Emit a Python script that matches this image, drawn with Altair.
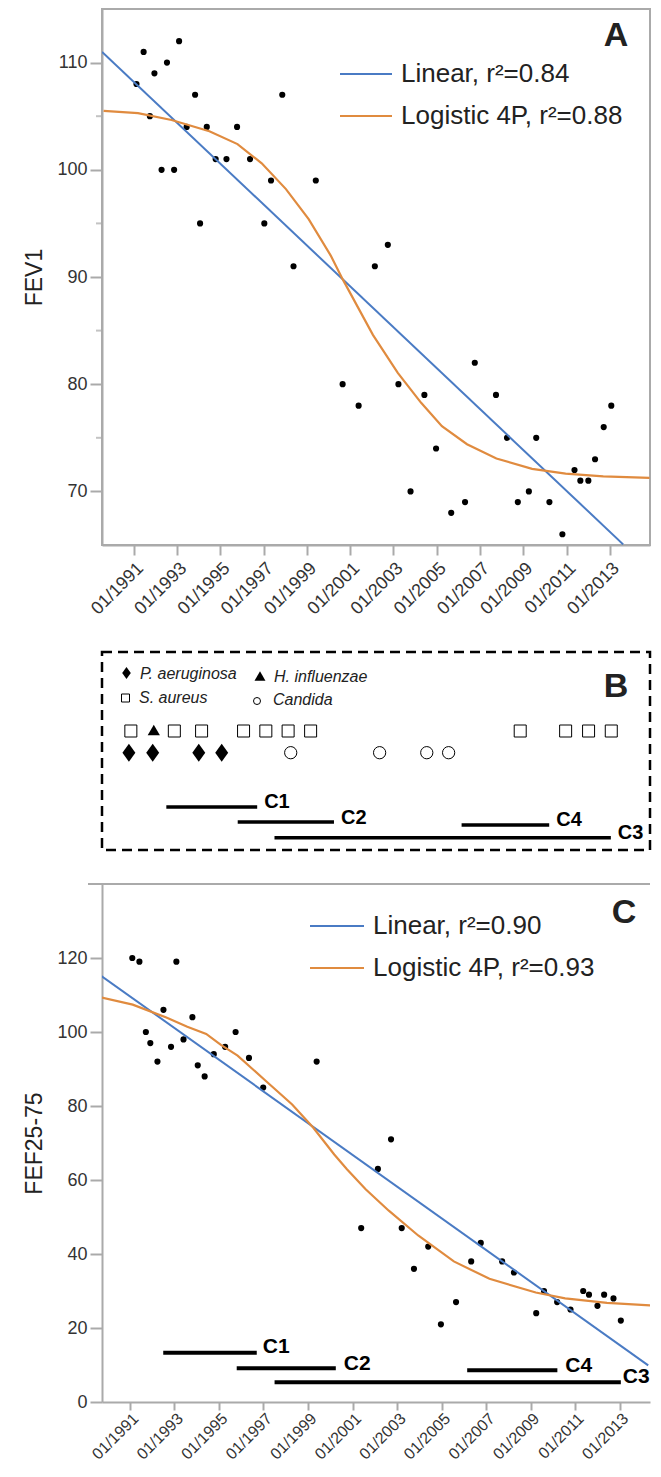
import altair as alt
import pandas as pd

# ---------------- Panel A : FEV1 ----------------
fev1_year = [1991.12, 1991.45, 1991.74, 1991.95, 1992.28, 1992.53, 1992.86, 1993.09, 1993.44, 1993.83,
             1994.06, 1994.37, 1994.78, 1995.28, 1995.77, 1996.37, 1997.03, 1997.34, 1997.86, 1998.38,
             1999.41, 2002.14, 2002.74, 2000.65, 2001.39, 2003.23, 2003.79, 2004.43, 2004.97, 2005.67,
             2006.31, 2006.76, 2007.74, 2008.25, 2008.75, 2009.26, 2009.60, 2010.21, 2010.81, 2011.37,
             2011.64, 2012.01, 2012.32, 2012.72, 2013.07]
fev1_value = [108, 111, 105, 109, 100, 110, 100, 112, 104, 107,
              95, 104, 101, 101, 104, 101, 95, 99, 107, 91,
              99, 91, 93, 80, 78, 80, 70, 79, 74, 68,
              69, 82, 79, 75, 69, 70, 75, 69, 66, 72,
              71, 71, 73, 76, 78]
fev1_lin_year = [1989.53, 2013.62]
fev1_lin_value = [111.0, 65.06]
fev1_log_year = [1989.6, 1991.19, 1992.74, 1994.49, 1995.79, 1996.91, 1998.03, 1999.08, 2000.1, 2000.65,
                 2002.05, 2003.2, 2004.28, 2005.24, 2006.4, 2007.76, 2009.41, 2010.96, 2012.7, 2014.84]
fev1_log_value = [105.5, 105.28, 104.65, 103.6, 102.4, 100.6, 98.2, 95.4, 92.0, 89.8,
                  84.6, 81.06, 78.26, 76.09, 74.4, 73.07, 72.1, 71.65, 71.4, 71.27]
fev1_major_ticks = [70, 80, 90, 100, 110]
fev1_minor_ticks = [75, 85, 95, 105]
legend_a = ["Linear, r\u00b2=0.84", "Logistic 4P, r\u00b2=0.88"]

# ---------------- Panel C : FEF25-75 ----------------
fef_year = [1991.11, 1991.43, 1991.72, 1991.92, 1992.24, 1992.51, 1992.85, 1993.09, 1993.41, 1993.81,
            1994.05, 1994.36, 1994.77, 1995.28, 1995.75, 1996.35, 1996.99, 1999.39, 2002.14, 2002.73,
            2001.39, 2003.21, 2003.76, 2004.40, 2004.97, 2005.65, 2006.33, 2006.76, 2007.72, 2008.25,
            2009.25, 2009.60, 2010.19, 2010.79, 2011.36, 2011.62, 2012.00, 2012.30, 2012.72, 2013.05]
fef_value = [120, 119, 100, 97, 92, 106, 96, 119, 98, 104,
             91, 88, 94, 96, 100, 93, 85, 92, 63, 71,
             47, 47, 36, 42, 21, 27, 38, 43, 38, 35,
             24, 30, 27, 25, 30, 29, 26, 29, 28, 22]
fef_lin_year = [1989.53, 2014.28]
fef_lin_value = [115.96, 9.9]
fef_log_year = [1989.57, 1991.13, 1992.64, 1993.58, 1994.43, 1995.09, 1995.84, 1997.16, 1998.29, 1999.24,
                2000.18, 2000.75, 2001.59, 2002.63, 2003.95, 2005.55, 2007.15, 2009.23, 2010.55, 2012.43,
                2014.66]
fef_log_value = [109.5, 107.4, 103.9, 101.4, 99.5, 96.5, 93.6, 86.5, 80.4, 74.1,
                 66.9, 62.9, 57.5, 51.7, 45.0, 38.0, 33.3, 29.6, 28.0, 26.8,
                 26.0]
fef_ticks = [0, 20, 40, 60, 80, 100, 120]
legend_c = ["Linear, r\u00b2=0.90", "Logistic 4P, r\u00b2=0.93"]

# ---------------- Panel B : microbiology ----------------
saureus_year = [1990.86, 1992.87, 1994.13, 1996.07, 1997.10, 1998.13, 1999.17, 2008.86, 2010.96, 2012.02, 2013.07]
hinfluenzae_year = [1991.92]
paeruginosa_year = [1990.77, 1991.87, 1994.00, 1995.06]
candida_year = [1998.25, 2002.36, 2004.54, 2005.55]
organisms = ["P. aeruginosa", "H. influenzae", "S. aureus", "Candida"]

cohort_name = ["C1", "C2", "C3", "C4"]
cohort_start = [1992.5, 1995.8, 1997.5, 2006.15]
cohort_end = [1996.7, 2000.25, 2013.05, 2010.2]

tick_years = list(range(1991, 2014, 2))

# ---------------- styling / layout ----------------
W = 548
HA, HB, HC = 536, 198, 518
BLUE = "#4a7bc4"
ORANGE = "#e08b3f"
GRAY = "#aaaaaa"
TXT = "#222222"
FONT = "Liberation Sans"
DIAMOND = "M0,-1L0.72,0L0,1L-0.72,0Z"

xdom_a = [1989.526, 2014.86]
xdom_c = [1989.75, 2014.36]


def xaxis(pad, size, tick):
    return alt.Axis(values=tick_years, labelExpr="'01/' + datum.value", labelAngle=-45,
                    labelAlign="right", labelBaseline="top", labelFontSize=size, tickSize=tick,
                    labelPadding=pad, labelOverlap=False, labelFlush=False, title=None, grid=False)


xA = alt.X("year:Q", scale=alt.Scale(domain=xdom_a, nice=False, zero=False), axis=xaxis(4, 18, 10))
yA = alt.Y("value:Q", scale=alt.Scale(domain=[65, 115], nice=False, zero=False),
           axis=alt.Axis(values=fev1_major_ticks, tickSize=12,
                         labelFontSize=18, labelPadding=3, title="FEV1", titleFontSize=23,
                         titleFontWeight="normal", titleColor=TXT, titlePadding=10, grid=False))
xaxis_c = xaxis(0, 16, 8)
xC = alt.X("year:Q", scale=alt.Scale(domain=xdom_c, nice=False, zero=False), axis=xaxis_c)
yC = alt.Y("value:Q", scale=alt.Scale(domain=[0, 140], nice=False, zero=False),
           axis=alt.Axis(values=fef_ticks, tickSize=12, labelFontSize=18,
                         labelPadding=3, title="FEF25-75", titleFontSize=23, titleFontWeight="normal",
                         titleColor=TXT, titlePadding=10, grid=False))
xB = alt.X("year:Q", scale=alt.Scale(domain=xdom_a, nice=False, zero=False), axis=None)

one = pd.DataFrame({"k": [0]})


def text_at(txt, x, y, size, weight="normal", style="normal", align="left"):
    return alt.Chart(pd.DataFrame({"t": [txt]})).mark_text(
        font=FONT, fontSize=size, fontWeight=weight, fontStyle=style, align=align,
        baseline="middle", color=TXT).encode(x=alt.value(x), y=alt.value(y), text="t:N")


def rule_at(x1, x2, y, color, width):
    return alt.Chart(one).mark_rule(color=color, strokeWidth=width).encode(
        x=alt.value(x1), x2=alt.value(x2), y=alt.value(y))


def sym_at(shape, x, y, size, filled):
    return alt.Chart(one).mark_point(shape=shape, size=size, filled=filled, color="black",
                                     strokeWidth=1, opacity=1).encode(x=alt.value(x), y=alt.value(y))


def fit_panel(xe, ye, pts_y, pts_v, lin_y, lin_v, log_y, log_v, legend, letter, leg):
    pts = alt.Chart(pd.DataFrame({"year": pts_y, "value": pts_v})).mark_circle(
        size=38, color="black", opacity=1).encode(x=xe, y=ye)
    lin = alt.Chart(pd.DataFrame({"year": lin_y, "value": lin_v})).mark_line(
        color=BLUE, strokeWidth=2, clip=True).encode(x=xe, y=ye)
    log = alt.Chart(pd.DataFrame({"year": log_y, "value": log_v})).mark_line(
        color=ORANGE, strokeWidth=2.2, clip=True).encode(x=xe, y=ye)
    lx1, lx2, tx, r1, r2, lettx, letty = leg
    layers = [pts, lin, log,
              rule_at(lx1, lx2, r1, BLUE, 2.2), rule_at(lx1, lx2, r2, ORANGE, 2.2),
              text_at(legend[0], tx, r1, 26), text_at(legend[1], tx, r2, 26),
              text_at(letter, lettx, letty, 34, weight="bold", align="center")]
    return layers


layers_a = fit_panel(xA, yA, fev1_year, fev1_value, fev1_lin_year, fev1_lin_value,
                     fev1_log_year, fev1_log_value, legend_a, "A",
                     (238, 290, 299, 65, 107, 514, 27))
minor = alt.Chart(pd.DataFrame({"value": fev1_minor_ticks})).mark_tick(
    orient="horizontal", color=GRAY, thickness=2, size=6).encode(x=alt.value(-3), y=yA)
layers_a.append(minor)
panel_a = alt.layer(*layers_a).properties(
    width=W, height=HA, view=alt.ViewBackground(stroke=GRAY, strokeWidth=2))

layers_c = fit_panel(xC, yC, fef_year, fef_value, fef_lin_year, fef_lin_value,
                     fef_log_year, fef_log_value, legend_c, "C",
                     (208, 262, 271, 42, 84, 522, 29))
top_line = alt.Chart(one).mark_rule(color=GRAY, strokeWidth=2).encode(
    x=alt.value(-14), x2=alt.value(W), y=alt.value(0))
c_line_y = {"C1": 468.7, "C2": 484.3, "C3": 498.3, "C4": 486.3}
c_lab_y = {"C1": 463, "C2": 480, "C3": 493, "C4": 481.7}
c_lab_dx = {"C1": 6, "C2": 8, "C3": 2, "C4": 8}
for n, s, e in zip(cohort_name, cohort_start, cohort_end):
    d = pd.DataFrame({"year": [s], "year2": [e], "name": [n]})
    layers_c.append(alt.Chart(d).mark_rule(color="black", strokeWidth=4).encode(
        x=xC, x2="year2:Q", y=alt.value(c_line_y[n])))
    layers_c.append(alt.Chart(d).mark_text(font=FONT, fontSize=21, fontWeight="bold", align="left",
                                           baseline="middle", dx=c_lab_dx[n], color="black").encode(
        x=alt.X("year2:Q", scale=alt.Scale(domain=xdom_c, nice=False, zero=False), axis=xaxis_c),
        y=alt.value(c_lab_y[n]), text="name:N"))
layers_c.append(top_line)
panel_c = alt.layer(*layers_c).properties(width=W, height=HC)

# ---------------- Panel B ----------------
box = alt.Chart(one).mark_rect(fillOpacity=0, stroke="black", strokeWidth=2.5, strokeDash=[10, 6]).encode(
    x=alt.value(0), x2=alt.value(W), y=alt.value(0), y2=alt.value(HB))
b_layers = [box,
            sym_at(DIAMOND, 24.5, 21, 144, True), text_at(organisms[0], 38, 22, 16, style="italic"),
            sym_at("triangle-up", 158, 24, 120, True), text_at(organisms[1], 172, 25, 16, style="italic"),
            sym_at("square", 23.5, 46, 64, False), text_at(organisms[2], 37, 46, 16, style="italic"),
            sym_at("circle", 155, 49, 49, False), text_at(organisms[3], 171, 48, 16, style="italic"),
            text_at("B", 514, 35, 34, weight="bold", align="center")]
b_layers.append(alt.Chart(pd.DataFrame({"year": saureus_year})).mark_point(
    shape="square", size=144, filled=False, color="black", strokeWidth=1, opacity=1).encode(
    x=xB, y=alt.value(79)))
b_layers.append(alt.Chart(pd.DataFrame({"year": hinfluenzae_year})).mark_point(
    shape="triangle-up", size=150, filled=True, color="black", opacity=1).encode(
    x=xB, y=alt.value(78)))
b_layers.append(alt.Chart(pd.DataFrame({"year": paeruginosa_year})).mark_point(
    shape=DIAMOND, size=324, filled=True, color="black", opacity=1).encode(
    x=xB, y=alt.value(100.7)))
b_layers.append(alt.Chart(pd.DataFrame({"year": candida_year})).mark_point(
    shape="circle", size=150, filled=False, color="black", strokeWidth=1, opacity=1).encode(
    x=xB, y=alt.value(100.7)))
b_line_y = {"C1": 155, "C2": 170, "C3": 185.7, "C4": 173}
b_lab_y = {"C1": 150, "C2": 166, "C3": 181, "C4": 168}
for n, s, e in zip(cohort_name, cohort_start, cohort_end):
    d = pd.DataFrame({"year": [s], "year2": [e], "name": [n]})
    b_layers.append(alt.Chart(d).mark_rule(color="black", strokeWidth=3.5).encode(
        x=xB, x2="year2:Q", y=alt.value(b_line_y[n])))
    b_layers.append(alt.Chart(d).mark_text(font=FONT, fontSize=20, fontWeight="bold", align="left",
                                           baseline="middle", dx=7, color="black").encode(
        x=alt.X("year2:Q", scale=alt.Scale(domain=xdom_a, nice=False, zero=False), axis=None),
        y=alt.value(b_lab_y[n]), text="name:N"))
panel_b = alt.layer(*b_layers).properties(width=W, height=HB)

chart = alt.vconcat(panel_a, panel_b, panel_c, spacing=31).properties(
    padding={"left": 14, "top": 0, "right": 0, "bottom": 2}
).configure_view(stroke=None).configure_axis(
    domainColor=GRAY, domainWidth=2, tickColor=GRAY, tickWidth=2, labelColor="#333333",
    labelFont=FONT, titleFont=FONT
).configure_text(font=FONT)

chart.save("out.html", embed_options={"renderer": "svg", "actions": False})
